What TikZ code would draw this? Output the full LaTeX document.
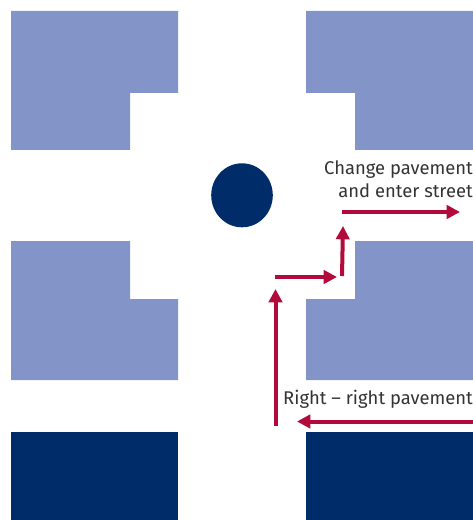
\documentclass[tikz,border=0pt]{standalone}
\usepackage{fontspec}
\setmainfont{Fira Sans}
\usepackage{tikz}
\usetikzlibrary{arrows.meta,shapes.geometric}

\definecolor{blockblue}{HTML}{8294C8}
\definecolor{darkblue}{HTML}{002D69}
\definecolor{routered}{HTML}{B20A3A}
\definecolor{labelgrey}{HTML}{333333}

\begin{document}
\begin{tikzpicture}[x=0.75pt,y=-0.75pt]
		\tikzset{%
  >={Triangle[width=10pt,length=10pt]},
  % Specifications for style of blocks and lines:
  block/.style = {fill=blockblue},
  lastblock/.style = {fill=darkblue},
  route/.style = {->,draw=routered,line width=3pt},
  label/.style = {text=labelgrey,font=\fontsize{13.8pt}{17.3pt}\selectfont,align=right,inner sep=0pt,anchor=east},
}
  \useasboundingbox (0,0) rectangle (473,520);

  % City blocks
  \path[block] (11,11) -| (178,93) -| (130,150) -| cycle;
  \path[block] (473,11) -| (306,93) -| (355,150) -| cycle;
  \path[block] (11,241) -| (130,299) -| (178,380) -| cycle;
  \path[block] (473,241) -| (355,299) -| (306,380) -| cycle;
  \path[lastblock] (11,432) rectangle (178,520);
  \path[lastblock] (306,432) rectangle (473,520);

  % Roundabout
  \node (island) [ellipse,fill=darkblue,minimum width=46.2pt,minimum height=48pt,inner sep=0pt] at (242,195.3) {};

  % Specification of end points of the route
  \coordinate (start) at (275.5,426);
  \coordinate (startend) at (275.5,289);
  \coordinate (cross) at (275,277);
  \coordinate (crossend) at (337,277);
  \coordinate (turn) at (342,276);
  \coordinate (turnend) at (343,226);
  \coordinate (street) at (342,212);
  \coordinate (streetend) at (460,212);
  \coordinate (edge) at (473,421.5);
  \coordinate (edgeend) at (297,421.5);

  \node (change) [label] at (473,179) {Change pavement\\and enter street};
  \node (right) [label] at (473,399) {Right -- right pavement};

  % Lines between the points specified above
  \draw[route] (start) -- (startend);
  \draw[route] (cross) -- (crossend);
  \draw[route] (turn) -- (turnend);
  \draw[route] (street) -- (streetend);
  \draw[route] (edge) -- (edgeend);

  \end{tikzpicture}
\end{document}
